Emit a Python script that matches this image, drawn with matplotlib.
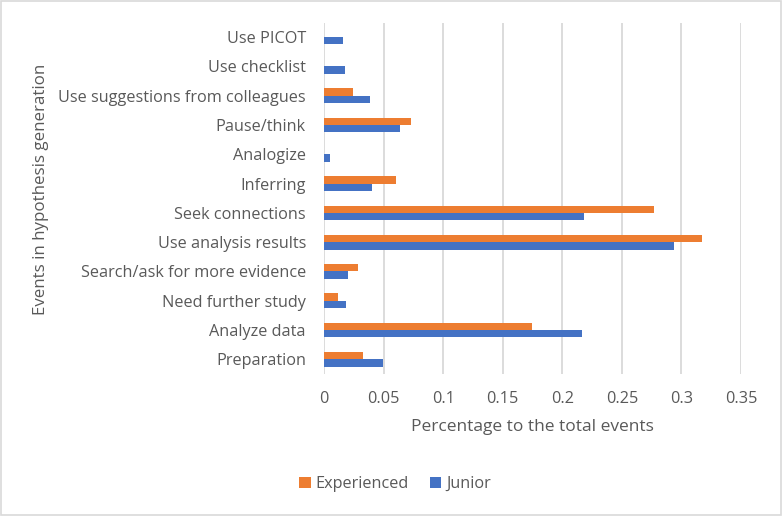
import matplotlib
matplotlib.use("Agg")
import matplotlib.pyplot as plt
import matplotlib.patches as patches
import numpy as np

# categories listed bottom -> top
categories = [
    "Preparation",
    "Analyze data",
    "Need further study",
    "Search/ask for more evidence",
    "Use analysis results",
    "Seek connections",
    "Inferring",
    "Analogize",
    "Pause/think",
    "Use suggestions from colleagues",
    "Use checklist",
    "Use PICOT",
]
experienced = [0.0327, 0.1748, 0.0120, 0.0283, 0.3174, 0.2766, 0.0607, 0.0, 0.0733, 0.0240, 0.0, 0.0]
junior = [0.0492, 0.2167, 0.0182, 0.0204, 0.2939, 0.2184, 0.0400, 0.0048, 0.0635, 0.0389, 0.0173, 0.0162]
xticks = [0, 0.05, 0.1, 0.15, 0.2, 0.25, 0.3, 0.35]
xtick_labels = ["0", "0.05", "0.1", "0.15", "0.2", "0.25", "0.3", "0.35"]

plt.rcParams['font.family'] = ['Open Sans', 'DejaVu Sans']
text_color = '#595959'
orange = '#ED7D31'
blue = '#4472C4'

fig = plt.figure(figsize=(7.82, 5.16), dpi=100)
ax = fig.add_axes([324 / 782, 1 - 374 / 516, (741 - 324) / 782, (374 - 22.5) / 516])

y = np.arange(len(categories))
h = 0.25
ax.barh(y + h / 2, experienced, height=h, color=orange, label='Experienced', zorder=3)
ax.barh(y - h / 2, junior, height=h, color=blue, label='Junior', zorder=3)

ax.set_xlim(0, 0.35)
ax.set_ylim(-0.5, len(categories) - 0.5)
ax.set_xticks(xticks)
ax.set_xticklabels(xtick_labels)
ax.set_yticks(y)
ax.set_yticklabels(categories)
ax.tick_params(axis='both', length=0, labelsize=11.7, colors=text_color)
ax.tick_params(axis='x', pad=12)
ax.tick_params(axis='y', pad=13)

ax.grid(axis='x', color='#D9D9D9', linewidth=1.3, zorder=0)
for s in ax.spines.values():
    s.set_visible(False)

ax.set_xlabel("Percentage to the total events", fontsize=12.5, color=text_color, labelpad=9)
fig.text(41 / 782, 1 - 189 / 516, "Events in hypothesis generation", rotation=90,
         fontsize=12.2, color=text_color, ha='center', va='center')

fig.legend(loc='center', bbox_to_anchor=(395 / 782, 1 - 484 / 516), ncol=2, frameon=False,
           fontsize=11.7, labelcolor=text_color, handlelength=0.7, handleheight=0.7,
           handletextpad=0.3, columnspacing=1.3)

fig.patches.append(patches.Rectangle((0.001, 0.001), 0.998, 0.998, transform=fig.transFigure,
                                     fill=False, edgecolor='#D9D9D9', linewidth=1.2))

fig.savefig("out.png", dpi=100)
